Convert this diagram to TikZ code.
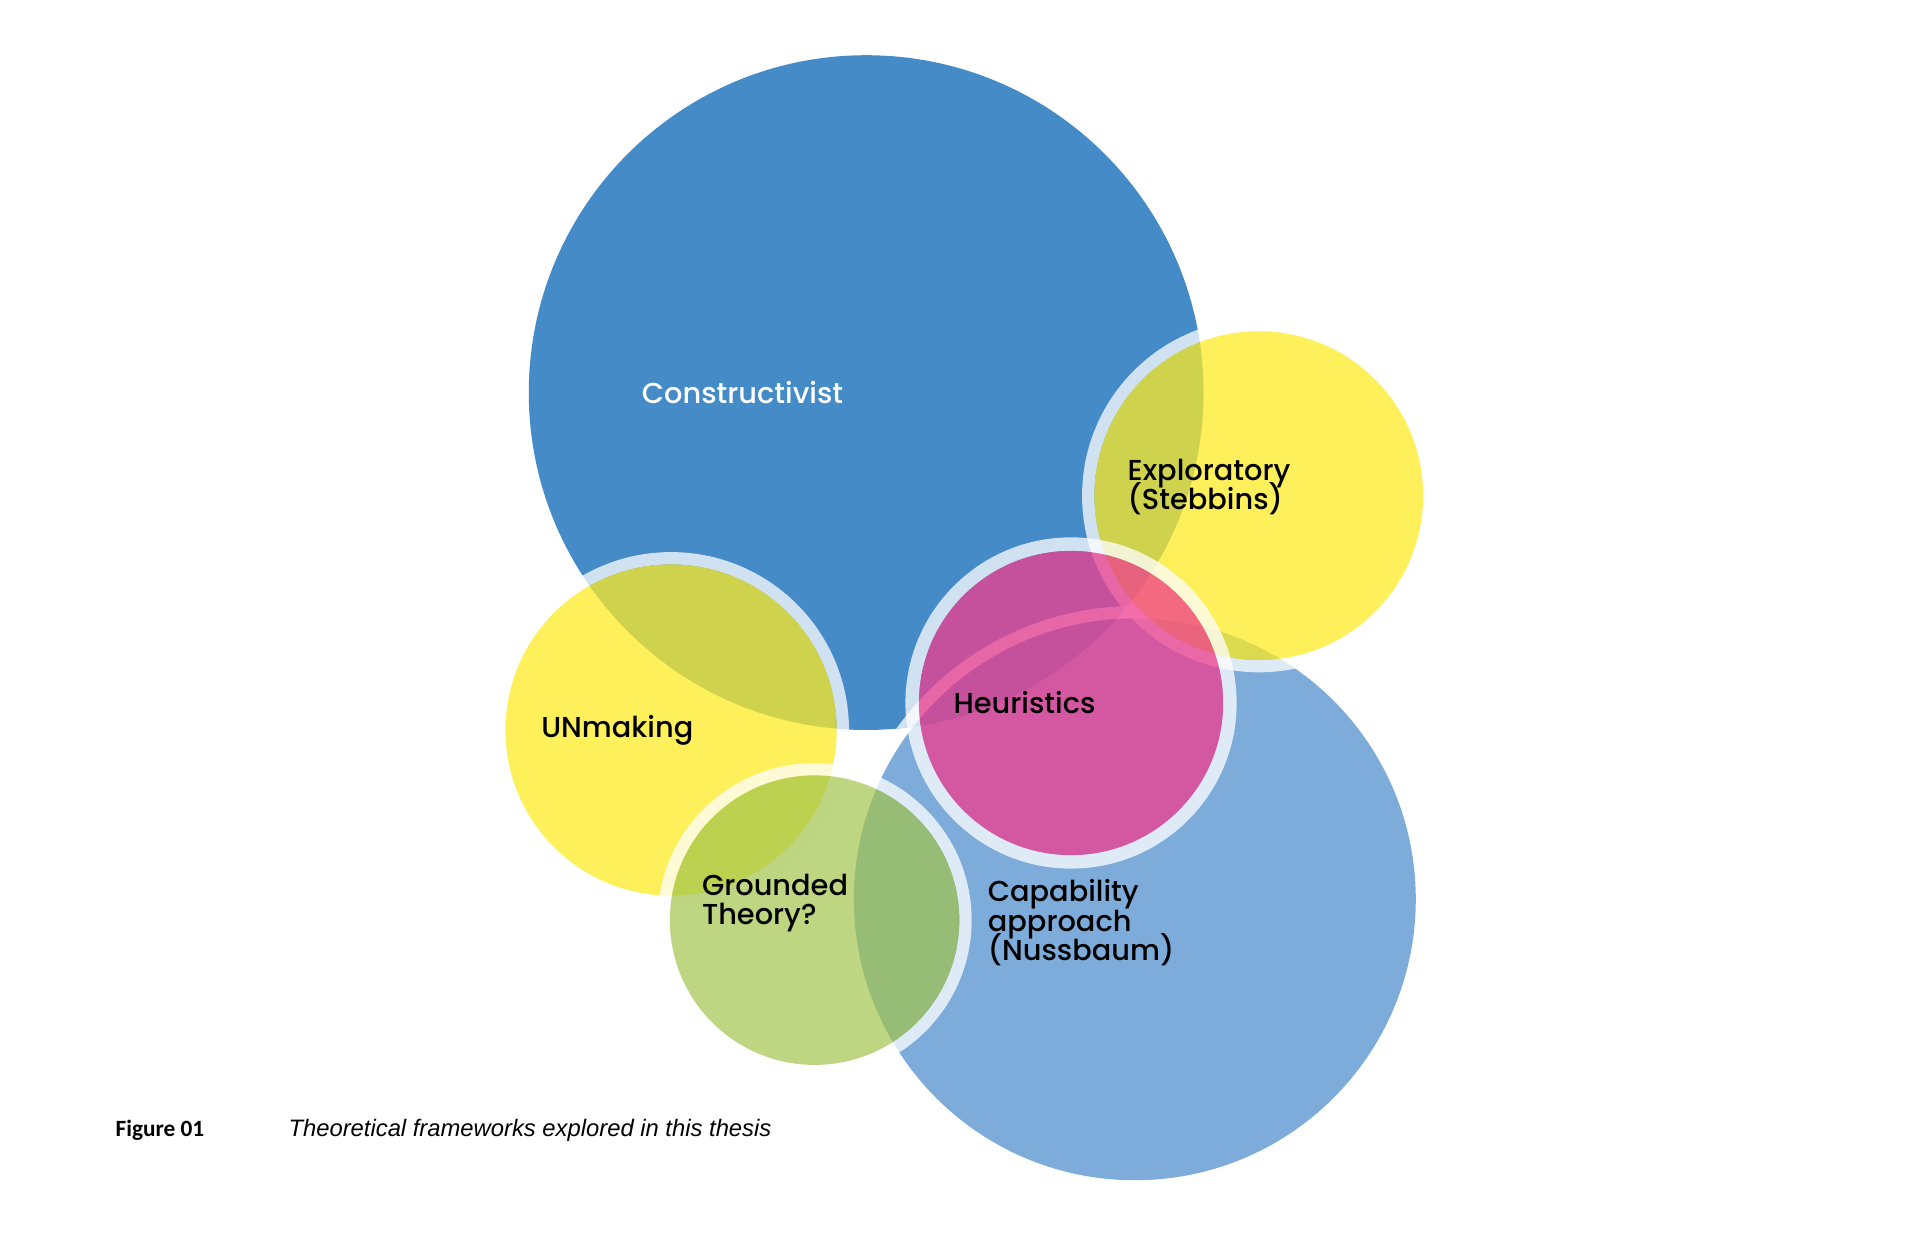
\documentclass[tikz,border=0pt]{standalone}
\usepackage{fontspec}
\setmainfont{Poppins}[UprightFont={* Medium}]
\newfontfamily\fignumfont{Carlito}
\newfontfamily\figtextfont{Liberation Sans}

\definecolor{constrblue}{RGB}{69,139,200}
\definecolor{capblue}{RGB}{125,172,218}
\definecolor{bubbleyellow}{RGB}{252,235,35}
\definecolor{heurpink}{RGB}{240,61,142}
\definecolor{groundgreen}{RGB}{162,196,76}

\newcommand\tightlines{\lineskiplimit=-20pt\relax\lineskip=0pt\relax}

\begin{document}
\begin{tikzpicture}[x=1pt,y=-1pt,
    ringband/.style={fill=white,fill opacity=.75,even odd rule},
    bubbletext/.style={anchor=west,align=left,inner sep=0pt,text=black,
      font=\fontsize{23.5}{24}\selectfont\tightlines}]

  \useasboundingbox (0,0) rectangle (1565,1025);

  % centres of the bubbles
  \coordinate (constr) at (706,320);
  \coordinate (capab)  at (925,733);
  \coordinate (explo)  at (1026,404);
  \coordinate (heur)   at (873,573);
  \coordinate (unmak)  at (547,595);
  \coordinate (ground) at (664,750);

  % the two blue ones
  \fill[capblue] (capab) circle (229pt);
  \fill[constrblue] (constr) circle (275pt);
  \begin{scope}
    \clip (constr) circle (275pt);
    \fill[ringband] (capab) circle (239pt) (capab) circle (229pt);
  \end{scope}

  % the others, each with its pale ring
  \fill[ringband] (explo) circle (144pt) (explo) circle (134pt);
  \fill[bubbleyellow,fill opacity=.75] (explo) circle (134pt);

  \fill[ringband] (heur) circle (135pt) (heur) circle (124pt);
  \fill[heurpink,fill opacity=.75] (heur) circle (124pt);

  \fill[ringband] (unmak) circle (145pt) (unmak) circle (135pt);
  \fill[bubbleyellow,fill opacity=.75] (unmak) circle (135pt);

  \fill[ringband] (ground) circle (128pt) (ground) circle (118pt);
  \fill[groundgreen,fill opacity=.7] (ground) circle (118pt);

  % labels
  \node[bubbletext,text=white] (constrtext) at (523,320) {Constructivist};
  \node[bubbletext] (explotext)  at (919,397) {Exploratory\\(Stebbins)};
  \node[bubbletext] (heurtext)   at (777,573) {Heuristics};
  \node[bubbletext] (unmaktext)  at (441,595) {UNmaking};
  \node[bubbletext] (groundtext) at (572,736) {Grounded\\Theory?};
  \node[bubbletext] (capabtext)  at (805,752) {Capability\\approach\\(Nussbaum)};

  % caption
  \node[anchor=west,inner sep=0pt,font=\fignumfont\bfseries\fontsize{19}{19}\selectfont]
    (fignum) at (94,921) {Figure 01};
  \node[anchor=west,inner sep=0pt,font=\figtextfont\itshape\fontsize{19.4}{19.4}\selectfont]
    (figtext) at (235,921) {Theoretical frameworks explored in this thesis};

\end{tikzpicture}
\end{document}
